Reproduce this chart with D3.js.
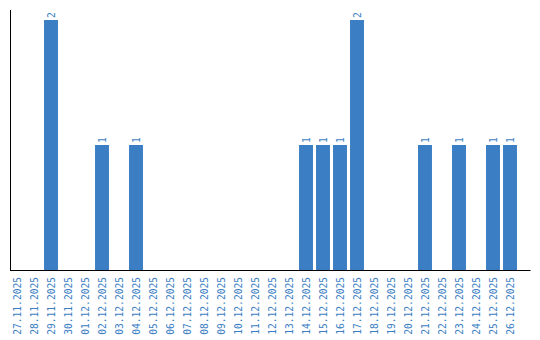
<!DOCTYPE html>
<html><head><meta charset="utf-8">
<script src="https://cdn.jsdelivr.net/npm/d3@7"></script>
<style>body{margin:0;background:#fff}svg{display:block}</style>
</head><body>
<script>
const categories = ["27.11.2025","28.11.2025","29.11.2025","30.11.2025","01.12.2025","02.12.2025","03.12.2025","04.12.2025","05.12.2025","06.12.2025","07.12.2025","08.12.2025","09.12.2025","10.12.2025","11.12.2025","12.12.2025","13.12.2025","14.12.2025","15.12.2025","16.12.2025","17.12.2025","18.12.2025","19.12.2025","20.12.2025","21.12.2025","22.12.2025","23.12.2025","24.12.2025","25.12.2025","26.12.2025"];
const values = [0,0,2,0,0,1,0,1,0,0,0,0,0,0,0,0,0,1,1,1,2,0,0,0,1,0,1,0,1,1];

const W = 540, H = 340;
const color = "#3b7ec3";
const font = "'DejaVu Sans Mono', monospace";
const svg = d3.select("body").append("svg").attr("width", W).attr("height", H);

const x = d3.scaleBand().domain(categories).range([8.5, 518.5]).paddingInner(0.18).paddingOuter(0.09);
const y = d3.scaleLinear().domain([0, 2]).range([270, 20]);

svg.selectAll("rect.bar").data(values).join("rect")
  .attr("class","bar")
  .attr("x", (d,i) => x(categories[i]))
  .attr("width", x.bandwidth())
  .attr("y", d => y(d))
  .attr("height", d => y(0) - y(d))
  .attr("fill", color);

svg.selectAll("text.val").data(values.map((v,i)=>({v,c:categories[i]})).filter(d=>d.v>0)).join("text")
  .attr("class","val")
  .attr("transform", d => `translate(${x(d.c)+x.bandwidth()/2+3.5},${y(d.v)-2}) rotate(-90)`)
  .attr("text-anchor","start")
  .attr("font-family", font).attr("font-size", "9.6px")
  .attr("fill", color)
  .text(d => d.v);

// x labels
const xAxis = d3.axisBottom(x).tickSize(0).tickPadding(0);
const gx = svg.append("g").attr("transform","translate(0,270)").call(xAxis);
gx.select(".domain").remove();
gx.selectAll("text")
  .attr("font-family", font).attr("font-size","9.6px").attr("fill", color)
  .attr("text-anchor","end")
  .attr("dy", null).attr("y", 0)
  .attr("transform","translate(3.5,7) rotate(-90)");

// axis lines
svg.append("line").attr("x1",10.5).attr("x2",10.5).attr("y1",10).attr("y2",270.5).attr("stroke","#000");
svg.append("line").attr("x1",10).attr("x2",530.5).attr("y1",270.5).attr("y2",270.5).attr("stroke","#000");
</script>
</body></html>
